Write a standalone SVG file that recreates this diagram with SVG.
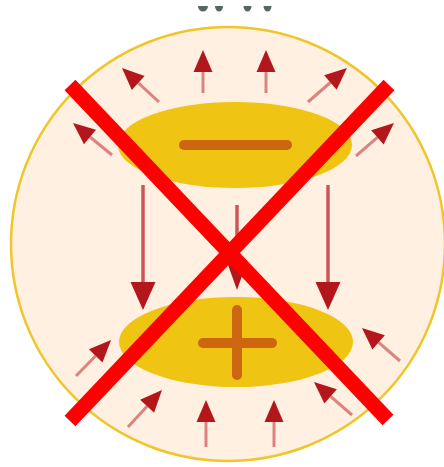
<svg xmlns="http://www.w3.org/2000/svg" width="444" height="467" viewBox="0 0 444 467">
<style>
.fl{stroke:#c8484c;stroke-opacity:0.65;stroke-width:3;fill:none}
.fi{stroke:#c03c40;stroke-opacity:0.85;stroke-width:3.5;fill:none}
.plate{fill:#f0c412}
.sym{stroke:#cc6610;stroke-width:10;stroke-linecap:round;fill:none}
.x{stroke:#ff0000;stroke-width:15;stroke-linecap:butt}
.dot{fill:#3c4a4a;fill-opacity:0.85}
</style>
<defs>
<marker id="ah" markerUnits="userSpaceOnUse" markerWidth="30" markerHeight="30" refX="0" refY="0" orient="auto" overflow="visible">
<path d="M0,-9.5 L22,0 L0,9.5 Z" fill="#b3171b"/>
</marker>
<marker id="ahb" markerUnits="userSpaceOnUse" markerWidth="30" markerHeight="30" refX="0" refY="0" orient="auto" overflow="visible">
<path d="M0,-12.5 L28,0 L0,12.5 Z" fill="#b3171b"/>
</marker>
<marker id="ahm" markerUnits="userSpaceOnUse" markerWidth="30" markerHeight="30" refX="0" refY="0" orient="auto" overflow="visible">
<path d="M0,-10 L28,0 L0,10 Z" fill="#b3171b"/>
</marker>
</defs>
<g id="top-marks">
<path class="dot" d="M198,6 A5,5.5 0 0 0 208,6 Z"/>
<path class="dot" d="M215,6 A4,5.5 0 0 0 223,6 Z"/>
<path class="dot" d="M243.5,6 A4,5.5 0 0 0 251.5,6 Z"/>
<path class="dot" d="M263.5,6 A4,5.5 0 0 0 271.5,6 Z"/>
</g>
<g id="sphere">
<circle cx="228" cy="244" r="217" fill="#fff0e1" stroke="#f0c52a" stroke-width="2.5"/>
</g>
<g id="negative-plate">
<ellipse class="plate" cx="235" cy="145" rx="117" ry="43"/>
<line class="sym" x1="184" y1="145" x2="287" y2="145"/>
</g>
<g id="positive-plate">
<ellipse class="plate" cx="236" cy="342" rx="117" ry="45"/>
<line class="sym" x1="203" y1="343" x2="272" y2="343"/>
<line class="sym" x1="237" y1="310" x2="237" y2="375"/>
</g>
<g id="connectors">
<line class="fi" x1="143" y1="185" x2="143" y2="282" marker-end="url(#ahb)"/>
<line class="fi" x1="328" y1="185" x2="328" y2="282" marker-end="url(#ahb)"/>
<line class="fi" x1="237" y1="205" x2="237" y2="262" marker-end="url(#ahm)"/>
<line class="fl" x1="203" y1="93" x2="203" y2="72" marker-end="url(#ah)"/>
<line class="fl" x1="266" y1="93" x2="266" y2="72" marker-end="url(#ah)"/>
<line class="fl" x1="159" y1="102" x2="138.2" y2="82.9" marker-end="url(#ah)"/>
<line class="fl" x1="308" y1="102" x2="330.4" y2="82.5" marker-end="url(#ah)"/>
<line class="fl" x1="112" y1="155" x2="90" y2="137" marker-end="url(#ah)"/>
<line class="fl" x1="356" y1="156" x2="377.4" y2="137.4" marker-end="url(#ah)"/>
<line class="fl" x1="76" y1="376" x2="95.7" y2="355.8" marker-end="url(#ah)"/>
<line class="fl" x1="400" y1="361" x2="378.6" y2="342.4" marker-end="url(#ah)"/>
<line class="fl" x1="128" y1="427" x2="147.1" y2="406.2" marker-end="url(#ah)"/>
<line class="fl" x1="352" y1="415" x2="330.6" y2="396.4" marker-end="url(#ah)"/>
<line class="fl" x1="206" y1="447" x2="206" y2="422" marker-end="url(#ah)"/>
<line class="fl" x1="274" y1="447" x2="274" y2="422" marker-end="url(#ah)"/>
</g>
<g id="cross">
<line class="x" x1="70" y1="85" x2="388" y2="420"/>
<line class="x" x1="389" y1="85" x2="70" y2="421"/>
</g>
</svg>
